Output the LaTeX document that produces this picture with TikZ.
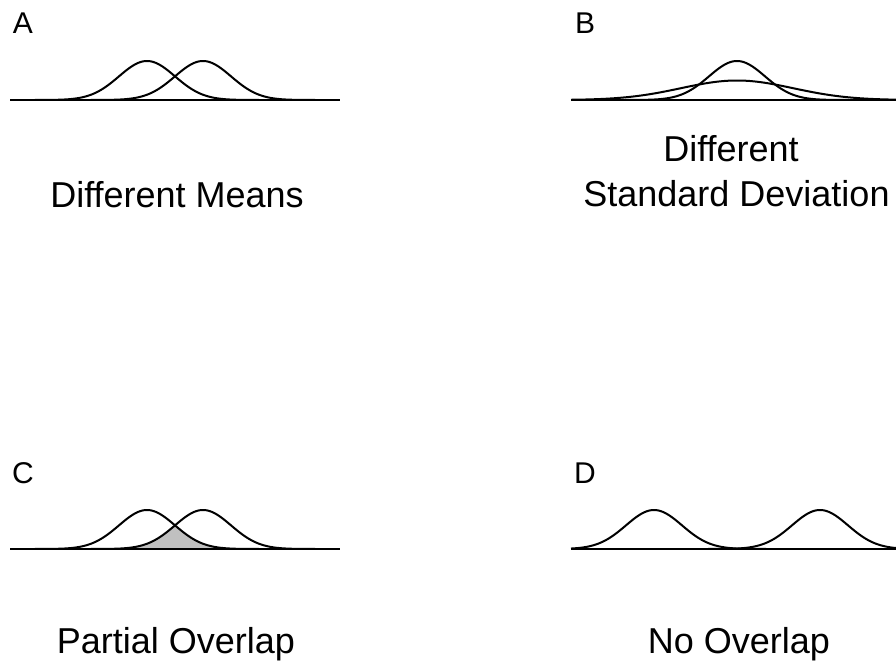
\documentclass[tikz,border=0pt]{standalone}
\usepackage{fontspec}
\setmainfont[Ligatures=NoCommon]{Liberation Sans}
\begin{document}
\begin{tikzpicture}[x=1pt,y=-1pt,
  curve/.style={line width=2pt,line join=round},
  baseln/.style={line width=2.2pt},
  title/.style={anchor=base,inner sep=0pt,font=\fontsize{36}{40}\selectfont},
  panel/.style={anchor=base,inner sep=0pt,font=\fontsize{30}{34}\selectfont}]
\useasboundingbox (0,0) rectangle (896,664);
\def\sig{28}
\def\hgt{39}
% Panel A
\node[panel] (la) at (23,33) {A};
\draw[baseln] (10,100) -- (340,100);
\draw[curve] plot[domain=35:259,samples=120,smooth] (\x,{100-\hgt*exp(-0.5*((\x-147)/\sig)^2)});
\draw[curve] plot[domain=91:315,samples=120,smooth] (\x,{100-\hgt*exp(-0.5*((\x-203)/\sig)^2)});
\node[title] (ta) at (177,207) {Different Means};
% Panel B
\node[panel] (lb) at (585,33) {B};
\draw[baseln] (571,100) -- (896,100);
\draw[curve] plot[domain=625:849,samples=120,smooth] (\x,{100-\hgt*exp(-0.5*((\x-737)/\sig)^2)});
\draw[curve] plot[domain=571:896,samples=150,smooth] (\x,{100-0.5*\hgt*exp(-0.5*((\x-737)/(2*\sig))^2)});
\node[title] (tb1) at (731,161.5) {Different};
\node[title] (tb2) at (736.5,206) {Standard Deviation};
% Panel C
\node[panel] (lc) at (23,483) {C};
\fill[fill={rgb,255:red,192;green,192;blue,192}]
  plot[domain=91:175,samples=60,smooth] (\x,{549-\hgt*exp(-0.5*((\x-203)/\sig)^2)})
  -- plot[domain=175:259,samples=60,smooth] (\x,{549-\hgt*exp(-0.5*((\x-147)/\sig)^2)})
  -- cycle;
\draw[curve] plot[domain=35:259,samples=120,smooth] (\x,{549-\hgt*exp(-0.5*((\x-147)/\sig)^2)});
\draw[curve] plot[domain=91:315,samples=120,smooth] (\x,{549-\hgt*exp(-0.5*((\x-203)/\sig)^2)});
\draw[baseln,line width=2.8pt] (10,549) -- (340,549);
\node[title] (tc) at (176,653) {Partial Overlap};
% Panel D
\node[panel] (ld) at (585,483) {D};
\draw[baseln] (571,549) -- (896,549);
\draw[curve] plot[domain=571:766,samples=120,smooth] (\x,{549-\hgt*exp(-0.5*((\x-654)/\sig)^2)});
\draw[curve] plot[domain=708:896,samples=120,smooth] (\x,{549-\hgt*exp(-0.5*((\x-820)/\sig)^2)});
\node[title] (td) at (739,653) {No Overlap};
\end{tikzpicture}
\end{document}
